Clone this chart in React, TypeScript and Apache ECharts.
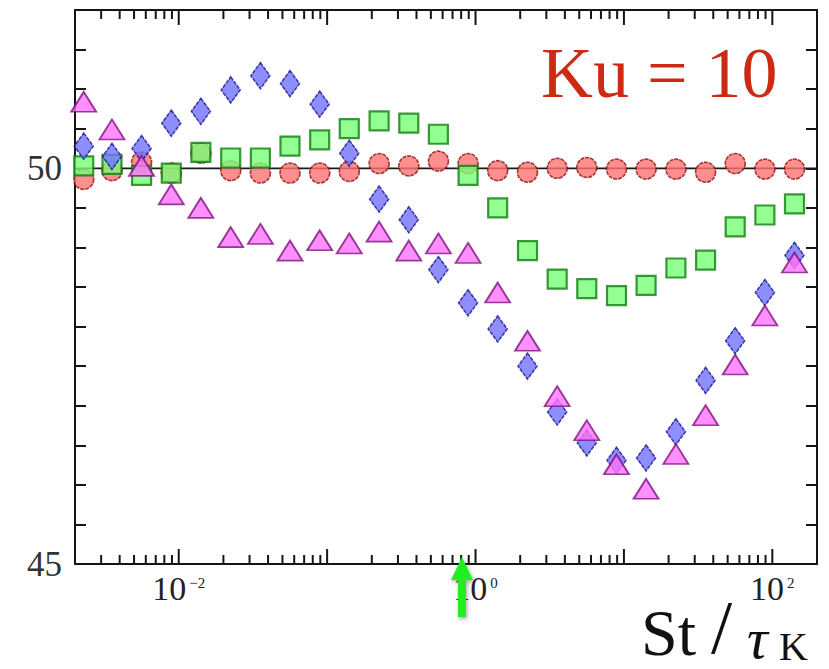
import React, { useEffect, useRef } from "react";
import * as echarts from "echarts";

// St / tau_K values (shared by all four series)
const stValues = [
  0.00229, 0.00355, 0.00562, 0.00891, 0.0141, 0.0224, 0.0355, 0.0562, 0.0891,
  0.141, 0.224, 0.355, 0.562, 0.891, 1.41, 2.24, 3.55, 5.62, 8.91, 14.1, 22.4,
  35.5, 56.2, 89.1, 141,
];
const redCircles = [
  49.86, 49.97, 50.08, 49.94, 50.19, 49.97, 49.94, 49.94, 49.94, 49.96, 50.06,
  50.03, 50.09, 50.06, 49.97, 49.95, 50.0, 50.01, 49.99, 49.99, 49.99, 49.95,
  50.06, 49.99, 49.99,
];
const greenSquares = [
  50.03, 50.05, 49.91, 49.94, 50.2, 50.13, 50.13, 50.28, 50.36, 50.5, 50.6,
  50.57, 50.43, 49.91, 49.5, 48.96, 48.6, 48.48, 48.39, 48.52, 48.74, 48.84,
  49.26, 49.41, 49.55,
];
const blueDiamonds = [
  50.28, 50.15, 50.25, 50.57, 50.72, 50.99, 51.17, 51.07, 50.81, 50.19, 49.61,
  49.35, 48.72, 48.3, 47.97, 47.5, 46.92, 46.53, 46.31, 46.34, 46.67, 47.32,
  47.82, 48.43, 48.9,
];
const magentaTriangles = [
  50.84, 50.49, 50.03, 49.67, 49.5, 49.13, 49.17, 48.96, 49.09, 49.05, 49.2,
  48.96, 49.05, 48.93, 48.43, 47.82, 47.12, 46.69, 46.26, 45.95, 46.39, 46.88,
  47.52, 48.14, 48.81,
];
const referenceLevel = 50;
const xMin = 0.002;
const xMax = 200;
const yMin = 45;
const yMax = 52;
const yTickStep = 0.5;
const yLabelValues = [45, 50];
const xLabelExponents = [-2, 0, 2];
const tickDecades = [-3, -2, -1, 0, 1, 2];
const tickMultipliers = [1, 2, 3, 4, 5, 6, 7, 8, 9];

const serif = "'Liberation Serif', 'Times New Roman', serif";

export default function App() {
  const ref = useRef<HTMLDivElement>(null);
  useEffect(() => {
    if (!ref.current) return;
    const chart = echarts.init(ref.current, undefined, { renderer: "svg" });

    const tickData: number[][] = [];
    tickDecades.forEach((d) => {
      tickMultipliers.forEach((m) => {
        const v = m * Math.pow(10, d);
        if (v > xMin * 1.0001 && v < xMax * 0.9999) tickData.push([v, 48, m === 1 ? 1 : 0]);
      });
    });

    const zip = (ys: number[]) => stValues.map((x, i) => [x, ys[i]]);

    const tickColor = "#151515";

    chart.setOption({
      animation: false,
      backgroundColor: "#ffffff",
      grid: { left: 75, top: 10, width: 742, height: 554, containLabel: false },
      xAxis: [
        {
          type: "log",
          logBase: 10,
          min: xMin,
          max: xMax,
          position: "bottom",
          axisLine: { show: true, lineStyle: { color: tickColor, width: 2 } },
          axisTick: { show: false },
          splitLine: { show: false },
          minorTick: { show: false },
          axisLabel: {
            show: true,
            margin: 11,
            showMinLabel: false,
            showMaxLabel: false,
            hideOverlap: false,
            formatter: (v: number) => {
              const e = Math.log10(v);
              const r = Math.round(e);
              if (Math.abs(e - r) > 1e-6) return "";
              if (!xLabelExponents.includes(r)) return "";
              const exp = r < 0 ? "\u2212" + -r : String(r);
              return `{b|10}{s|${exp}}`;
            },
            rich: {
              b: { fontFamily: serif, fontSize: 34, color: "#222", verticalAlign: "bottom", lineHeight: 30 },
              s: {
                fontFamily: serif,
                fontSize: 15,
                color: "#222",
                verticalAlign: "bottom",
                lineHeight: 15,
                padding: [0, 0, 15, 3],
              },
            },
          },
        },
        {
          type: "log",
          logBase: 10,
          min: xMin,
          max: xMax,
          position: "top",
          axisLine: { show: true, lineStyle: { color: tickColor, width: 2 } },
          axisTick: { show: false },
          axisLabel: { show: false },
          splitLine: { show: false },
        },
      ],
      yAxis: [
        {
          type: "value",
          min: yMin,
          max: yMax,
          interval: yTickStep,
          position: "left",
          axisLine: { show: true, lineStyle: { color: tickColor, width: 2 } },
          axisTick: { show: true, inside: true, length: 11, lineStyle: { color: tickColor, width: 2 } },
          splitLine: { show: false },
          axisLabel: {
            margin: 13,
            fontFamily: serif,
            fontSize: 35,
            color: "#333",
            showMaxLabel: false,
            formatter: (v: number) => (yLabelValues.some((l) => Math.abs(l - v) < 1e-6) ? String(Math.round(v)) : ""),
          },
        },
        {
          type: "value",
          min: yMin,
          max: yMax,
          interval: yTickStep,
          position: "right",
          axisLine: { show: true, lineStyle: { color: tickColor, width: 2 } },
          axisTick: { show: true, inside: true, length: 11, lineStyle: { color: tickColor, width: 2 } },
          splitLine: { show: false },
          axisLabel: { show: false },
        },
      ],
      series: [
        {
          type: "line",
          name: "reference",
          data: [
            [xMin, referenceLevel],
            [xMax, referenceLevel],
          ],
          showSymbol: false,
          symbol: "none",
          lineStyle: { color: "#1a1a1a", width: 1.8 },
          z: 1,
          silent: true,
        },
        {
          type: "scatter",
          name: "circles",
          data: zip(redCircles),
          symbol: "circle",
          symbolSize: 20,
          itemStyle: { color: "#ff7272", borderColor: "#8e1010", borderWidth: 1.6, borderType: [4, 1] },
          z: 2,
        },
        {
          type: "scatter",
          name: "squares",
          data: zip(greenSquares),
          symbol: "rect",
          symbolSize: 19,
          itemStyle: { color: "#78ff78", borderColor: "#0f7d0f", borderWidth: 2.2 },
          z: 3,
        },
        {
          type: "scatter",
          name: "diamonds",
          data: zip(blueDiamonds),
          symbol: "diamond",
          symbolSize: [19, 26],
          itemStyle: { color: "#7272ff", borderColor: "#16168e", borderWidth: 1.6, borderType: [4, 1] },
          z: 4,
        },
        {
          type: "scatter",
          name: "triangles",
          data: zip(magentaTriangles),
          symbol: "triangle",
          symbolSize: [25, 20],
          itemStyle: { color: "#ff72ff", borderColor: "#80107f", borderWidth: 1.8 },
          z: 5,
        },
        {
          type: "custom",
          name: "xticks",
          silent: true,
          clip: false,
          data: tickData,
          encode: { x: 0, y: 1 },
          z: 6,
          renderItem: (params: any, api: any) => {
            const v = api.value(0);
            const major = api.value(2) === 1;
            const b = api.coord([v, yMin]);
            const t = api.coord([v, yMax]);
            const len = major ? 15 : 9;
            const st = { stroke: tickColor, lineWidth: 2 };
            return {
              type: "group",
              children: [
                { type: "line", shape: { x1: b[0], y1: b[1], x2: b[0], y2: b[1] - len }, style: st },
                { type: "line", shape: { x1: t[0], y1: t[1], x2: t[0], y2: t[1] + len }, style: st },
              ],
            };
          },
        },
      ],
      graphic: [
        {
          type: "text",
          x: 541,
          y: 73,
          style: {
            text: "Ku = 10",
            fontFamily: serif,
            fontSize: 72,
            fill: "#cc2a12",
            verticalAlign: "middle",
            align: "left",
          },
        },
        {
          type: "text",
          x: 641,
          y: 632,
          style: { text: "St", fontFamily: serif, fontSize: 66, lineHeight: 40, fill: "#111", verticalAlign: "middle" },
        },
        {
          type: "text",
          x: 711,
          y: 627,
          style: { text: "/", fontFamily: serif, fontSize: 76, lineHeight: 50, fill: "#111", verticalAlign: "middle" },
        },
        {
          type: "text",
          x: 747,
          y: 638,
          style: {
            text: "τ",
            fontFamily: serif,
            fontSize: 58,
            lineHeight: 32,
            fontStyle: "italic",
            fill: "#111",
            verticalAlign: "middle",
          },
        },
        {
          type: "text",
          x: 779,
          y: 646,
          style: { text: "K", fontFamily: serif, fontSize: 40, lineHeight: 26, fill: "#111", verticalAlign: "middle" },
        },
        {
          type: "polygon",
          shape: {
            points: [
              [462, 557],
              [451, 580],
              [458, 580],
              [458, 617],
              [466, 617],
              [466, 580],
              [473, 580],
            ],
          },
          style: {
            fill: "#22ee22",
            shadowBlur: 4,
            shadowColor: "rgba(0,0,0,0.35)",
            shadowOffsetX: 1,
            shadowOffsetY: 2,
          },
          z: 100,
        },
      ],
    });
    return () => chart.dispose();
  }, []);
  return (
    <div
      ref={ref}
      style={{ position: "fixed", left: 0, top: 0, width: 829, height: 669, background: "#fff" }}
    />
  );
}
